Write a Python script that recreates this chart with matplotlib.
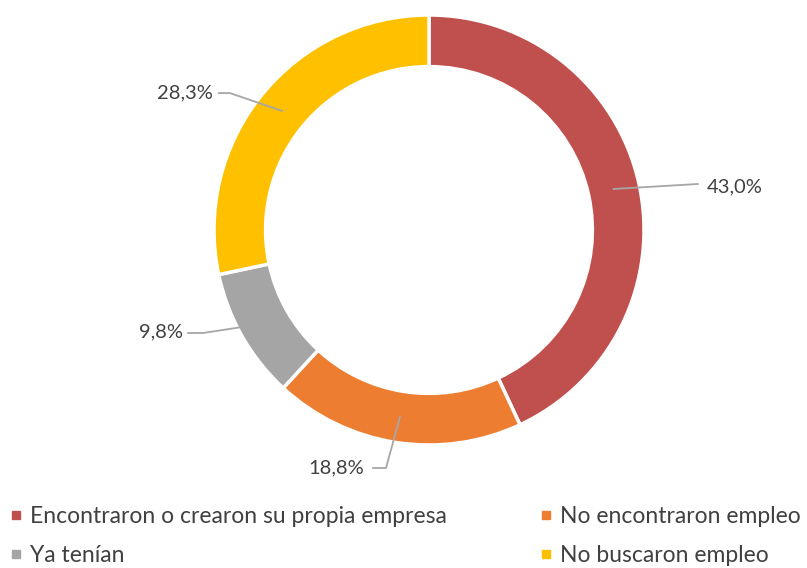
import numpy as np
import matplotlib.pyplot as plt
from matplotlib.lines import Line2D

plt.rcParams['font.family'] = ['Lato', 'DejaVu Sans']

# datos
categorias = ["Encontraron o crearon su propia empresa", "No encontraron empleo",
              "Ya tenían", "No buscaron empleo"]
valores = [43.0, 18.8, 9.8, 28.3]
colores = ["#C0504D", "#ED7D31", "#A5A5A5", "#FFC000"]

# posiciones de etiquetas (unidades del radio): codo de la linea, fin de linea, texto
codos = [(1.25, 0.214), (-0.20, -1.107), (-1.05, -0.479), (-0.926, 0.637)]
fines = [(1.25, 0.214), (-0.26, -1.107), (-1.12, -0.479), (-0.977, 0.637)]
textos = [(1.29, 0.20), (-0.30, -1.107), (-1.145, -0.474), (-1.005, 0.637)]
alineacion = ["left", "right", "right", "right"]

W, H = 807, 568
fig = plt.figure(figsize=(W / 100, H / 100), dpi=100)
cx, cy, R = 429, 230, 215
ax = fig.add_axes([(cx - R) / W, 1 - (cy + R) / H, 2 * R / W, 2 * R / H])

wedges, _ = ax.pie(valores, colors=colores, startangle=90, counterclock=False,
                   radius=1, wedgeprops=dict(width=0.24, edgecolor="white", linewidth=2.5))
ax.set_xlim(-1, 1)
ax.set_ylim(-1, 1)
ax.set_aspect("equal")
ax.axis("off")

texto_color = "#404040"
for w, v, c, f, t, ha in zip(wedges, valores, codos, fines, textos, alineacion):
    ang = np.deg2rad((w.theta1 + w.theta2) / 2)
    x0, y0 = 0.88 * np.cos(ang), 0.88 * np.sin(ang)
    ax.plot([x0, c[0], f[0]], [y0, c[1], f[1]], color="#A6A6A6", lw=1.3,
            clip_on=False)
    ax.text(t[0], t[1], f"{v:.1f}%".replace(".", ","), ha=ha, va="center",
            fontsize=14.5, color=texto_color, clip_on=False)

# leyenda
orden = [0, 2, 1, 3]
handles = [Line2D([], [], marker="s", ls="", color=colores[i], markersize=6) for i in orden]
fig.legend(handles, [categorias[i] for i in orden], ncol=2, loc="upper left",
           bbox_to_anchor=(-0.013, 0.146), frameon=False, fontsize=16.5,
           labelcolor=texto_color, handlelength=0.5, handletextpad=0.35,
           columnspacing=4.1, labelspacing=0.82)

fig.savefig("out.png", dpi=100)
